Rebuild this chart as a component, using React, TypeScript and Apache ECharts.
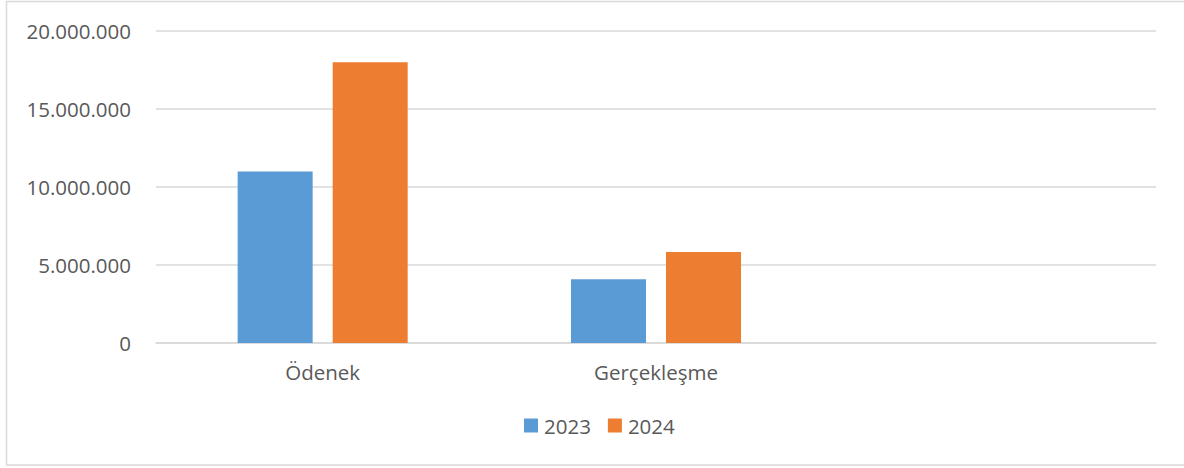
import React, { useEffect, useRef } from "react";
import * as echarts from "echarts";

const categories = ["Ödenek", "Gerçekleşme", ""];
const seriesNames = ["2023", "2024"];
const values2023 = [11000000, 4080000, null];
const values2024 = [18000000, 5830000, null];
const colors = ["#5B9BD5", "#ED7D31"];

const FONT = "'Open Sans', sans-serif";
const TEXT = "#595959";
const FS = 20.5;

function fmt(v: number): string {
  return String(Math.round(v)).replace(/\B(?=(\d{3})+(?!\d))/g, ".");
}

export default function App() {
  const ref = useRef<HTMLDivElement>(null);
  useEffect(() => {
    if (!ref.current) return;
    const chart = echarts.init(ref.current, null, { renderer: "svg" });
    chart.setOption({
      animation: false,
      backgroundColor: "#ffffff",
      textStyle: { fontFamily: FONT },
      graphic: [
        {
          type: "rect",
          shape: { x: 6.5, y: 1.5, width: 1250, height: 463.5 },
          style: { fill: "none", stroke: "#d9d9d9", lineWidth: 1.5 },
          silent: true,
        },
      ],
      grid: { left: 156, right: 28, top: 31, bottom: 125, containLabel: false },
      legend: {
        left: 524,
        top: 415,
        padding: 0,
        itemWidth: 14,
        itemHeight: 14,
        itemGap: 17,
        icon: "rect",
        textStyle: { color: TEXT, fontSize: FS, fontFamily: FONT, padding: [0, 0, 0, 1] },
        data: seriesNames,
      },
      xAxis: {
        type: "category",
        data: categories,
        axisLine: { show: true, lineStyle: { color: "#d9d9d9", width: 1.5 } },
        axisTick: { show: false },
        axisLabel: { color: TEXT, fontSize: FS, fontFamily: FONT, margin: 18 },
      },
      yAxis: {
        type: "value",
        min: 0,
        max: 20000000,
        interval: 5000000,
        axisLine: { show: false },
        axisTick: { show: false },
        splitLine: { lineStyle: { color: "#d9d9d9", width: 1.5 } },
        axisLabel: {
          color: TEXT,
          fontSize: FS,
          fontFamily: FONT,
          margin: 25,
          formatter: (v: number) => fmt(v),
        },
      },
      series: [
        {
          name: seriesNames[0],
          type: "bar",
          data: values2023,
          barWidth: 75,
          barGap: "26.7%",
          itemStyle: { color: colors[0] },
        },
        {
          name: seriesNames[1],
          type: "bar",
          data: values2024,
          barWidth: 75,
          barGap: "26.7%",
          itemStyle: { color: colors[1] },
        },
      ],
    });
    return () => chart.dispose();
  }, []);
  return (
    <div
      ref={ref}
      style={{ position: "fixed", left: 0, top: 0, width: 1184, height: 468 }}
    />
  );
}
